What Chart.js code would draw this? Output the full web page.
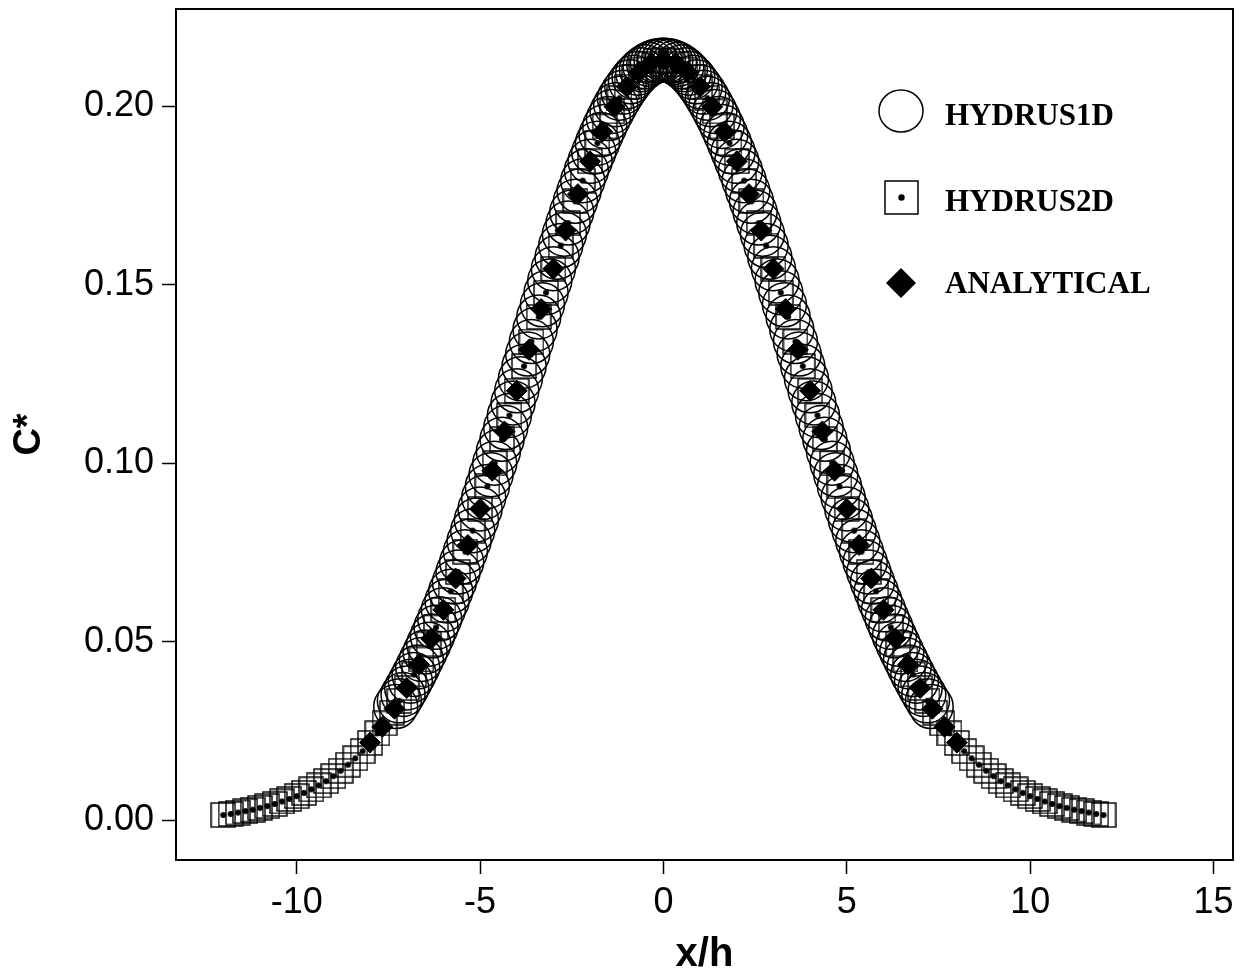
<!DOCTYPE html>
<html>
<head>
<meta charset="utf-8">
<script src="https://cdn.jsdelivr.net/npm/chart.js@4.4.0/dist/chart.umd.min.js"></script>
<style>
body { margin: 0; background: #fff; }
#wrap { width: 1240px; height: 973px; }
</style>
</head>
<body>
<div id="wrap"><canvas id="mycanvas"></canvas></div>
<script>
// series (x/h against C*)
var seriesNames = ["HYDRUS1D", "HYDRUS2D", "ANALYTICAL"];

var h1dX = [-7.3,-7.2,-7.1,-7,-6.9,-6.8,-6.7,-6.6,-6.5,-6.4,-6.3,-6.2,-6.1,-6,-5.9,-5.8,-5.7,-5.6,-5.5,-5.4,
	-5.3,-5.2,-5.1,-5,-4.9,-4.8,-4.7,-4.6,-4.5,-4.4,-4.3,-4.2,-4.1,-4,-3.9,-3.8,-3.7,-3.6,-3.5,-3.4,
	-3.3,-3.2,-3.1,-3,-2.9,-2.8,-2.7,-2.6,-2.5,-2.4,-2.3,-2.2,-2.1,-2,-1.9,-1.8,-1.7,-1.6,-1.5,-1.4,
	-1.3,-1.2,-1.1,-1,-0.9,-0.8,-0.7,-0.6,-0.5,-0.4,-0.3,-0.2,-0.1,0,
	0.1,0.2,0.3,0.4,0.5,0.6,0.7,0.8,0.9,1,1.1,1.2,1.3,
	1.4,1.5,1.6,1.7,1.8,1.9,2,2.1,2.2,2.3,2.4,2.5,2.6,2.7,2.8,2.9,3,3.1,3.2,3.3,
	3.4,3.5,3.6,3.7,3.8,3.9,4,4.1,4.2,4.3,4.4,4.5,4.6,4.7,4.8,4.9,5,5.1,5.2,5.3,
	5.4,5.5,5.6,5.7,5.8,5.9,6,6.1,6.2,6.3,6.4,6.5,6.6,6.7,6.8,6.9,7,7.1,7.2,7.3];
var h1dC = [0.0318,0.0334,0.0352,0.0370,0.0389,0.0408,0.0429,0.0450,0.0471,0.0493,0.0516,0.0540,0.0564,0.0589,0.0614,0.0641,0.0667,0.0695,0.0723,0.0752,
	0.0781,0.0811,0.0841,0.0872,0.0904,0.0935,0.0968,0.1000,0.1033,0.1067,0.1100,0.1134,0.1169,0.1203,0.1237,0.1272,0.1306,0.1341,0.1375,0.1410,
	0.1444,0.1478,0.1511,0.1545,0.1577,0.1610,0.1642,0.1673,0.1704,0.1734,0.1763,0.1792,0.1820,0.1846,0.1872,0.1897,0.1921,0.1944,0.1966,0.1986,
	0.2005,0.2023,0.2040,0.2055,0.2069,0.2082,0.2093,0.2103,0.2111,0.2118,0.2123,0.2127,0.2129,0.2130,
	0.2129,0.2127,0.2123,0.2118,0.2111,0.2103,0.2093,0.2082,0.2069,0.2055,0.2040,0.2023,0.2005,
	0.1986,0.1966,0.1944,0.1921,0.1897,0.1872,0.1846,0.1820,0.1792,0.1763,0.1734,0.1704,0.1673,0.1642,0.1610,0.1577,0.1545,0.1511,0.1478,0.1444,
	0.1410,0.1375,0.1341,0.1306,0.1272,0.1237,0.1203,0.1169,0.1134,0.1100,0.1067,0.1033,0.1000,0.0968,0.0935,0.0904,0.0872,0.0841,0.0811,0.0781,
	0.0752,0.0723,0.0695,0.0667,0.0641,0.0614,0.0589,0.0564,0.0540,0.0516,0.0493,0.0471,0.0450,0.0429,0.0408,0.0389,0.0370,0.0352,0.0334,0.0318];

var h2dX = [-12,-11.8,-11.6,-11.4,-11.2,-11,-10.8,-10.6,-10.4,-10.2,
	-10,-9.8,-9.6,-9.4,-9.2,-9,-8.8,-8.6,-8.4,-8.2,
	-8,-7.8,-7.6,-7.4,-7.2,-7,-6.8,-6.6,-6.4,-6.2,
	-6,-5.8,-5.6,-5.4,-5.2,-5,-4.8,-4.6,-4.4,-4.2,
	-4,-3.8,-3.6,-3.4,-3.2,-3,-2.8,-2.6,-2.4,-2.2,
	-2,-1.8,-1.6,-1.4,-1.2,-1,-0.8,-0.6,-0.4,-0.2,
	0,
	0.2,0.4,0.6,0.8,1,1.2,1.4,1.6,1.8,2,
	2.2,2.4,2.6,2.8,3,3.2,3.4,3.6,3.8,4,
	4.2,4.4,4.6,4.8,5,5.2,5.4,5.6,5.8,6,
	6.2,6.4,6.6,6.8,7,7.2,7.4,7.6,7.8,8,
	8.2,8.4,8.6,8.8,9,9.2,9.4,9.6,9.8,10,
	10.2,10.4,10.6,10.8,11,11.2,11.4,11.6,11.8,12];
var h2dC = [0.0014,0.0017,0.0021,0.0025,0.0029,0.0034,0.0039,0.0045,0.0052,0.0059,
	0.0067,0.0076,0.0086,0.0097,0.0109,0.0123,0.0138,0.0155,0.0173,0.0193,
	0.0216,0.0243,0.0271,0.0301,0.0334,0.0370,0.0408,0.0450,0.0493,0.0540,
	0.0589,0.0641,0.0695,0.0752,0.0811,0.0872,0.0935,0.1000,0.1067,0.1134,
	0.1203,0.1272,0.1341,0.1410,0.1478,0.1545,0.1610,0.1673,0.1734,0.1792,
	0.1846,0.1897,0.1944,0.1986,0.2023,0.2055,0.2082,0.2103,0.2118,0.2127,
	0.2130,
	0.2127,0.2118,0.2103,0.2082,0.2055,0.2023,0.1986,0.1944,0.1897,0.1846,
	0.1792,0.1734,0.1673,0.1610,0.1545,0.1478,0.1410,0.1341,0.1272,0.1203,
	0.1134,0.1067,0.1000,0.0935,0.0872,0.0811,0.0752,0.0695,0.0641,0.0589,
	0.0540,0.0493,0.0450,0.0408,0.0370,0.0334,0.0301,0.0271,0.0243,0.0216,
	0.0193,0.0173,0.0155,0.0138,0.0123,0.0109,0.0097,0.0086,0.0076,0.0067,
	0.0059,0.0052,0.0045,0.0039,0.0034,0.0029,0.0025,0.0021,0.0017,0.0014];

var anaX = [-8,-7.667,-7.333,-7,-6.667,-6.333,-6,-5.667,-5.333,-5,-4.667,-4.333,-4,
	-3.667,-3.333,-3,-2.667,-2.333,-2,-1.667,-1.333,-1,-0.667,-0.333,0,
	0.333,0.667,1,1.333,1.667,2,2.333,2.667,3,3.333,3.667,4,
	4.333,4.667,5,5.333,5.667,6,6.333,6.667,7,7.333,7.667,8];
var anaC = [0.0217,0.0261,0.0312,0.0370,0.0436,0.0508,0.0589,0.0677,0.0771,0.0872,0.0979,0.1089,0.1203,
	0.1318,0.1432,0.1545,0.1652,0.1754,0.1846,0.1929,0.1999,0.2055,0.2096,0.2122,0.2130,
	0.2122,0.2096,0.2055,0.1999,0.1929,0.1846,0.1754,0.1652,0.1545,0.1432,0.1318,0.1203,
	0.1089,0.0979,0.0872,0.0771,0.0677,0.0589,0.0508,0.0436,0.0370,0.0312,0.0261,0.0217];

var xTicks = [-10, -5, 0, 5, 10, 15];
var yTicks = [0, 0.05, 0.10, 0.15, 0.20];

function toPoints(xs, ys) {
	var pts = [];
	for (var i in xs) {
		pts.push({x: xs[i], y: ys[i]});
	}
	return pts;
}

// open square with a dot in the middle, used as point style for HYDRUS2D
function squareDot(side, dot) {
	var cv = document.createElement("canvas");
	cv.width = side + 2;
	cv.height = side + 2;
	var g = cv.getContext("2d");
	g.strokeStyle = "#000";
	g.lineWidth = 1.4;
	g.strokeRect(1, 1, side, side);
	g.fillStyle = "#000";
	g.beginPath();
	g.arc(cv.width / 2, cv.height / 2, dot, 0, Math.PI * 2);
	g.fill();
	return cv;
}

// the scales should not push the plot area in for their edge labels
function noEdgePadding(s) {
	s.paddingTop = 0;
	s.paddingBottom = 0;
	s.paddingLeft = 0;
	s.paddingRight = 0;
}

var frame = {
	id: "frame",
	afterDraw: function(chart) {
		var c = chart.ctx;
		var a = chart.chartArea;
		c.save();
		c.strokeStyle = "#000";
		c.lineWidth = 2;
		c.strokeRect(a.left, a.top, a.right - a.left, a.bottom - a.top);

		// legend
		c.lineWidth = 1.5;
		c.fillStyle = "#000";
		c.beginPath();
		c.ellipse(901, 111, 22, 21, 0, 0, Math.PI * 2);
		c.stroke();
		c.strokeRect(885, 181, 33, 33);
		c.beginPath();
		c.arc(901.5, 197.5, 3.2, 0, Math.PI * 2);
		c.fill();
		c.beginPath();
		c.moveTo(886, 283); c.lineTo(901, 268); c.lineTo(916, 283); c.lineTo(901, 298);
		c.closePath();
		c.fill();
		c.font = "bold 31px 'Liberation Serif'";
		c.textAlign = "left";
		c.textBaseline = "alphabetic";
		c.fillText(seriesNames[0], 945, 125);
		c.fillText(seriesNames[1], 945, 211);
		c.fillText(seriesNames[2], 945, 293);
		c.restore();
	}
};

var chartdata = {
	datasets: [
		{
			label: seriesNames[2],
			data: toPoints(anaX, anaC),
			pointStyle: "rectRot",
			pointRadius: 10.5,
			pointHoverRadius: 10.5,
			backgroundColor: "#000",
			borderColor: "#000",
			borderWidth: 1,
			order: 0
		},
		{
			label: seriesNames[1],
			data: toPoints(h2dX, h2dC),
			pointStyle: squareDot(24, 3),
			pointRadius: 12,
			pointHoverRadius: 12,
			backgroundColor: "rgba(0,0,0,0)",
			borderColor: "#000",
			order: 1
		},
		{
			label: seriesNames[0],
			data: toPoints(h1dX, h1dC),
			pointStyle: "circle",
			pointRadius: 22,
			pointHoverRadius: 22,
			backgroundColor: "rgba(0,0,0,0)",
			borderColor: "#000",
			borderWidth: 1.5,
			order: 2
		}
	]
};

var ctx = document.getElementById("mycanvas");

var plot = new Chart(ctx, {
	type: "scatter",
	data: chartdata,
	options: {
		responsive: true,
		maintainAspectRatio: false,
		animation: false,
		events: [],
		layout: { autoPadding: false, padding: { top: 9, right: 7, left: 0, bottom: 0 } },
		plugins: {
			legend: { display: false },
			tooltip: { enabled: false }
		},
		scales: {
			x: {
				type: "linear",
				min: -13.29,
				max: 15.53,
				afterBuildTicks: function(s) {
					s.ticks = xTicks.map(function(v) { return {value: v}; });
				},
				afterFit: function(s) { s.height = 113; noEdgePadding(s); },
				grid: { display: true, drawOnChartArea: false, drawTicks: true, tickLength: 14, tickColor: "#000", tickWidth: 1.5 },
				border: { display: false },
				ticks: {
					color: "#000",
					font: { family: "'Liberation Sans'", size: 36 },
					padding: 7,
					maxRotation: 0,
					autoSkip: false
				},
				title: {
					display: true,
					text: "x/h",
					color: "#000",
					font: { family: "'Liberation Sans'", size: 40, weight: "bold", lineHeight: 1 },
					padding: { top: 0, bottom: -2 }
				}
			},
			y: {
				type: "linear",
				min: -0.0112,
				max: 0.2273,
				afterBuildTicks: function(s) {
					s.ticks = yTicks.map(function(v) { return {value: v}; });
				},
				afterFit: function(s) { s.width = 176; noEdgePadding(s); },
				grid: { display: true, drawOnChartArea: false, drawTicks: true, tickLength: 14, tickColor: "#000", tickWidth: 1.5 },
				border: { display: false },
				ticks: {
					color: "#000",
					font: { family: "'Liberation Sans'", size: 36 },
					padding: 8,
					autoSkip: false,
					callback: function(v) { return v.toFixed(2); }
				},
				title: {
					display: true,
					text: "C*",
					color: "#000",
					font: { family: "'Liberation Sans'", size: 38, weight: "bold", lineHeight: 1 },
					padding: { top: 11, bottom: 0 }
				}
			}
		}
	},
	plugins: [frame]
});
</script>
</body>
</html>
